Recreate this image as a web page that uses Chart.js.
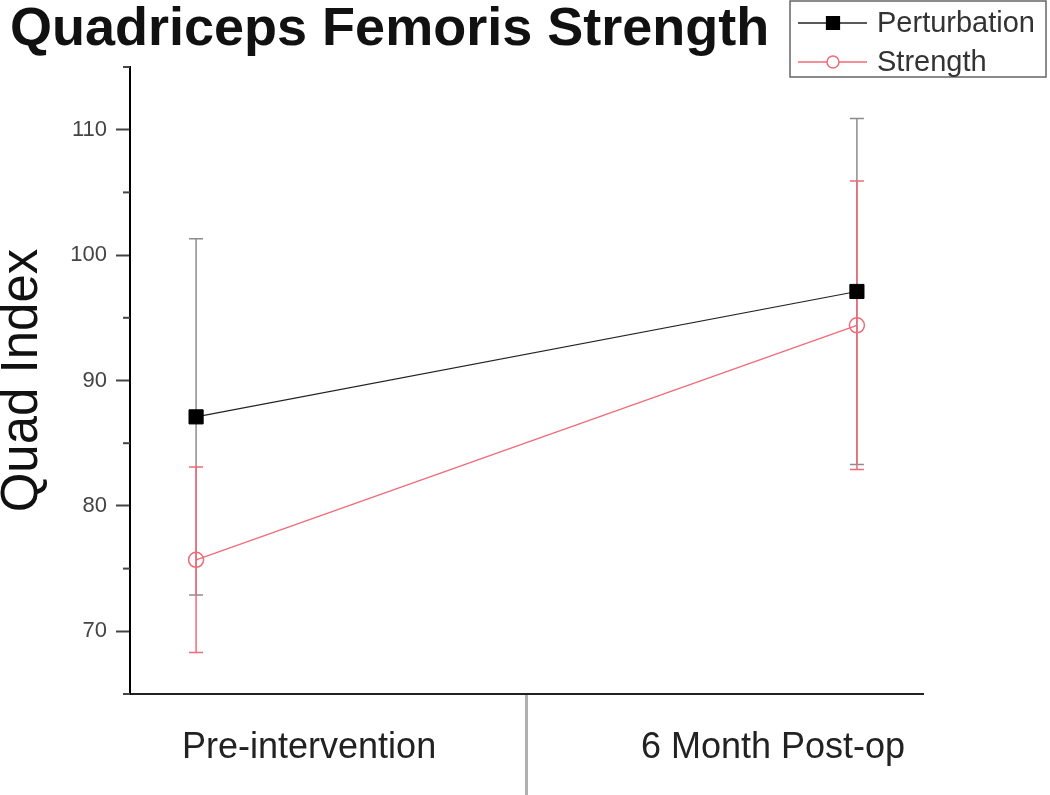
<!DOCTYPE html>
<html>
<head>
<meta charset="utf-8">
<title>Quadriceps Femoris Strength</title>
<script src="https://cdn.jsdelivr.net/npm/chart.js@4.4.0/dist/chart.umd.min.js"></script>
<style>
  html, body { margin: 0; padding: 0; background: #fff; }
  #wrap { width: 1050px; height: 795px; position: relative; }
</style>
</head>
<body>
<div id="wrap"><canvas id="quadChart"></canvas></div>
<script>
const categories = ['Pre-intervention', '6 Month Post-op'];
const seriesNames = ['Perturbation', 'Strength'];
const perturbation = [87.1, 97.1];
const perturbationErr = [14.2, 13.8];
const strength = [75.7, 94.4];
const strengthErr = [7.4, 11.5];

const FONT = '"Liberation Sans", Arial, Helvetica, sans-serif';
const PINK = '#f06a78';

const toPoints = vals => vals.map((v, i) => ({ x: i, y: v }));

// error bars go under the lines and markers
const errorBars = {
  id: 'errorBars',
  beforeDatasetsDraw(chart) {
    const ctx = chart.ctx;
    const y = chart.scales.y;
    chart.data.datasets.forEach((ds, di) => {
      const meta = chart.getDatasetMeta(di);
      ctx.save();
      ctx.strokeStyle = ds.errorColor;
      ctx.lineWidth = 1.5;
      meta.data.forEach((pt, i) => {
        const v = ds.data[i].y, e = ds.errors[i];
        const top = y.getPixelForValue(v + e);
        const bot = y.getPixelForValue(v - e);
        ctx.beginPath();
        ctx.moveTo(pt.x, top); ctx.lineTo(pt.x, bot);
        ctx.moveTo(pt.x - 7, top); ctx.lineTo(pt.x + 7, top);
        ctx.moveTo(pt.x - 7, bot); ctx.lineTo(pt.x + 7, bot);
        ctx.stroke();
      });
      ctx.restore();
    });
  }
};

// short minor ticks on y, and the category divider under the x axis
const axisExtras = {
  id: 'axisExtras',
  afterDraw(chart) {
    const { ctx, chartArea } = chart;
    const x = chart.scales.x, y = chart.scales.y;
    ctx.save();
    ctx.strokeStyle = '#444';
    ctx.lineWidth = 2;
    y.ticks.forEach(t => {
      if (t.value % 10 !== 0) {
        const py = y.getPixelForValue(t.value);
        ctx.beginPath();
        ctx.moveTo(chartArea.left - 7, py);
        ctx.lineTo(chartArea.left, py);
        ctx.stroke();
      }
    });
    const sx = x.getPixelForValue(0.5);
    ctx.strokeStyle = '#b0b0b0';
    ctx.lineWidth = 3;
    ctx.beginPath();
    ctx.moveTo(sx, chartArea.bottom + 1);
    ctx.lineTo(sx, chart.height);
    ctx.stroke();
    ctx.restore();
  }
};

// boxed legend in the top right corner
const boxLegend = {
  id: 'boxLegend',
  afterDraw(chart) {
    const ctx = chart.ctx;
    const bx = 790, by = 1, bw = 256, bh = 76;
    ctx.save();
    ctx.fillStyle = '#fff';
    ctx.fillRect(bx, by, bw, bh);
    ctx.strokeStyle = '#666';
    ctx.lineWidth = 1.5;
    ctx.strokeRect(bx, by, bw, bh);
    ctx.font = '29px ' + FONT;
    ctx.textBaseline = 'middle';
    chart.data.datasets.forEach((ds, i) => {
      const ry = by + 22 + i * 39;
      ctx.strokeStyle = ds.borderColor;
      ctx.lineWidth = 1.5;
      ctx.beginPath();
      ctx.moveTo(bx + 8, ry);
      ctx.lineTo(bx + 77, ry);
      ctx.stroke();
      ctx.fillStyle = ds.legendFill;
      ctx.strokeStyle = ds.pointBorderColor;
      Chart.helpers.drawPoint(ctx, { pointStyle: ds.pointStyle, radius: ds.legendRadius, borderWidth: 1.5 }, bx + 43, ry);
      ctx.fillStyle = '#333';
      ctx.fillText(ds.label, bx + 87, ry + 1);
    });
    ctx.restore();
  }
};

new Chart(document.getElementById('quadChart'), {
  type: 'line',
  data: {
    datasets: [
      {
        label: seriesNames[0],
        data: toPoints(perturbation),
        errors: perturbationErr,
        errorColor: '#8c8c8c',
        borderColor: '#222',
        borderWidth: 1.2,
        pointStyle: 'rect',
        pointRadius: 10,
        pointBackgroundColor: '#000',
        pointBorderColor: '#000',
        pointBorderWidth: 1,
        legendRadius: 9,
        legendFill: '#000'
      },
      {
        label: seriesNames[1],
        data: toPoints(strength),
        errors: strengthErr,
        errorColor: PINK,
        borderColor: PINK,
        borderWidth: 1.2,
        pointStyle: 'circle',
        pointRadius: 7.5,
        pointBackgroundColor: 'rgba(255,255,255,0)',
        pointBorderColor: PINK,
        pointBorderWidth: 1.5,
        legendRadius: 6,
        legendFill: '#fff'
      }
    ]
  },
  options: {
    responsive: true,
    maintainAspectRatio: false,
    animation: false,
    layout: { padding: { left: 10, right: 127, top: 0, bottom: 0 } },
    plugins: {
      legend: { display: false },
      tooltip: { enabled: false },
      title: {
        display: true,
        text: 'Quadriceps Femoris Strength',
        align: 'start',
        color: '#111',
        font: { family: FONT, size: 54, weight: 'bold', lineHeight: 1 },
        padding: { top: 3, bottom: 10 }
      }
    },
    scales: {
      x: {
        type: 'linear',
        min: -0.1,
        max: 1.1,
        afterBuildTicks: s => { s.ticks = [{ value: 0.171 }, { value: 0.873 }]; },
        afterFit: s => { s.height = 101; },
        grid: { display: false },
        border: { display: true, color: '#222', width: 2 },
        ticks: {
          callback: (v, i) => categories[i],
          color: '#222',
          font: { family: FONT, size: 36 },
          padding: 24,
          maxRotation: 0,
          autoSkip: false
        }
      },
      y: {
        min: 65,
        max: 115,
        afterFit: s => { s.width = 120; },
        ticks: {
          stepSize: 5,
          callback: v => (v % 10 === 0 ? v : ''),
          color: '#444',
          font: { family: FONT, size: 22 },
          padding: 9
        },
        grid: {
          drawOnChartArea: false,
          tickLength: 14,
          tickWidth: 2,
          tickColor: c => (c.tick && c.tick.value % 10 === 0 ? '#444' : 'rgba(0,0,0,0)')
        },
        border: { color: '#000', width: 2 },
        title: {
          display: true,
          text: 'Quad Index',
          color: '#111',
          font: { family: FONT, size: 51, lineHeight: 0.5 },
          padding: 0
        }
      }
    }
  },
  plugins: [errorBars, axisExtras, boxLegend]
});
</script>
</body>
</html>
